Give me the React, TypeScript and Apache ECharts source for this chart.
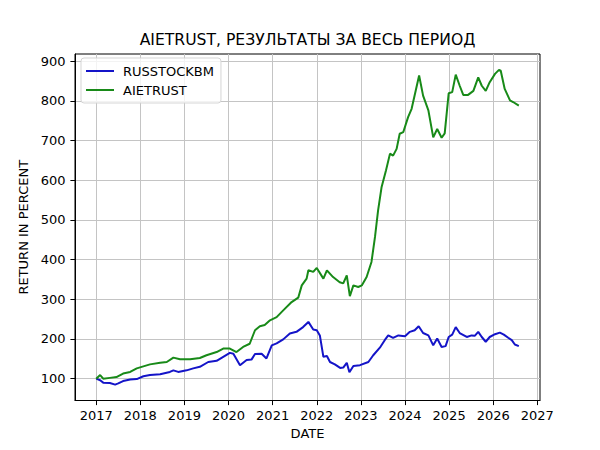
import React, { useEffect, useRef } from 'react';
import * as echarts from 'echarts';

// decimal years, values in percent (start = 100)
const russDates = [
  2017.0, 2017.09, 2017.16, 2017.31, 2017.43, 2017.5, 2017.61, 2017.77, 2017.92, 2018.07,
  2018.22, 2018.45, 2018.67, 2018.75, 2018.86, 2019.05, 2019.2, 2019.35, 2019.54, 2019.73,
  2019.88, 2020.03, 2020.11, 2020.26, 2020.41, 2020.52, 2020.6, 2020.75, 2020.86, 2020.98,
  2021.09, 2021.24, 2021.39, 2021.54, 2021.69, 2021.81, 2021.92, 2022.0, 2022.07, 2022.15,
  2022.23, 2022.3, 2022.41, 2022.53, 2022.6, 2022.68, 2022.74, 2022.83, 2022.98, 2023.17,
  2023.28, 2023.43, 2023.54, 2023.62, 2023.73, 2023.85, 2024.0, 2024.11, 2024.22, 2024.31,
  2024.41, 2024.53, 2024.64, 2024.73, 2024.83, 2024.92, 2024.99, 2025.07, 2025.15, 2025.24,
  2025.4, 2025.51, 2025.58, 2025.66, 2025.74, 2025.83, 2025.92, 2026.04, 2026.15, 2026.24,
  2026.34, 2026.42, 2026.49, 2026.58,
];
const russValues = [
  100, 96, 90, 89, 85, 88, 94, 98, 99, 106,
  109, 111, 117, 121, 117, 121, 126, 130, 142, 145,
  155, 165, 163, 134, 147, 148, 162, 163, 151, 184,
  189, 199, 214, 218, 230, 243, 224, 222, 209, 155,
  157, 142, 136, 127, 128, 140, 116, 132, 134, 142,
  159, 178, 197, 209, 203, 209, 207, 218, 222, 232,
  215, 209, 184, 201, 180, 182, 205, 211, 230, 215,
  205, 209, 208, 218, 205, 193, 205, 212, 216, 211,
  203, 197, 186, 182,
];

const aieDates = [
  2017.0, 2017.09, 2017.16, 2017.31, 2017.46, 2017.61, 2017.77, 2017.92, 2018.07, 2018.22,
  2018.45, 2018.6, 2018.75, 2018.9, 2019.13, 2019.35, 2019.5, 2019.73, 2019.88, 2020.03,
  2020.18, 2020.33, 2020.48, 2020.6, 2020.71, 2020.82, 2020.94, 2021.09, 2021.24, 2021.43,
  2021.58, 2021.66, 2021.77, 2021.81, 2021.92, 2022.0, 2022.15, 2022.23, 2022.37, 2022.52,
  2022.6, 2022.68, 2022.75, 2022.83, 2022.94, 2023.02, 2023.13, 2023.24, 2023.32, 2023.39,
  2023.47, 2023.57, 2023.66, 2023.73, 2023.81, 2023.88, 2023.96, 2024.07, 2024.15, 2024.26,
  2024.32, 2024.41, 2024.53, 2024.64, 2024.73, 2024.83, 2024.9, 2024.99, 2025.07, 2025.15,
  2025.24, 2025.32, 2025.43, 2025.55, 2025.66, 2025.74, 2025.83, 2025.92, 2026.04, 2026.13,
  2026.17, 2026.26, 2026.38, 2026.45, 2026.58,
];
const aieValues = [
  100, 109, 100, 102, 104, 113, 117, 126, 131, 136,
  140, 142, 153, 149, 149, 152, 159, 167, 176, 176,
  167, 180, 188, 222, 232, 235, 247, 255, 272, 293,
  304, 335, 352, 373, 369, 379, 352, 373, 356, 343,
  340, 360, 308, 335, 331, 335, 356, 394, 457, 524,
  583, 625, 667, 662, 679, 717, 721, 759, 780, 834,
  864, 813, 776, 708, 729, 707, 718, 819, 822, 866,
  838, 815, 815, 825, 859, 838, 825, 847, 868, 878,
  876, 830, 801, 797, 788,
];

const yearTicks = [2017, 2018, 2019, 2020, 2021, 2022, 2023, 2024, 2025, 2026, 2027];
const percentTicks = [100, 200, 300, 400, 500, 600, 700, 800, 900];

const zip = (xs: number[], ys: number[]) => xs.map((x, i) => [x, ys[i]]);

const FONT = 'DejaVu Sans';

const App: React.FC = () => {
  const chartRef = useRef<HTMLDivElement>(null);

  useEffect(() => {
    document.body.style.margin = '0';
    if (!chartRef.current) return;
    const chart = echarts.init(chartRef.current, undefined, { renderer: 'svg' });

    const option: echarts.EChartsOption = {
      animation: false,
      backgroundColor: '#fff',
      textStyle: { fontFamily: FONT },
      title: {
        text: 'AIETRUST, РЕЗУЛЬТАТЫ ЗА ВЕСЬ ПЕРИОД',
        left: 307.5,
        top: 32,
        textAlign: 'center',
        padding: 0,
        textStyle: { fontFamily: FONT, fontSize: 15.6, fontWeight: 'normal', color: '#000' },
      },
      legend: {
        orient: 'vertical',
        left: 81,
        top: 58,
        padding: [6.5, 7, 6.5, 5],
        itemGap: 6,
        itemWidth: 28,
        itemHeight: 2,
        icon: 'rect',
        borderColor: '#d5d5d5',
        borderWidth: 1,
        borderRadius: 3,
        backgroundColor: 'rgba(255,255,255,0.8)',
        textStyle: { fontFamily: FONT, fontSize: 13, color: '#000', padding: [0, 0, 0, 4] },
        data: ['RUSSTOCKBM', 'AIETRUST'],
      },
      grid: {
        left: 75,
        right: 60,
        top: 54,
        bottom: 49.5,
        show: true,
        borderColor: '#000',
        borderWidth: 1,
        containLabel: false,
      },
      xAxis: {
        type: 'value',
        min: 2016.52,
        max: 2027.06,
        name: 'DATE',
        nameLocation: 'middle',
        nameGap: 26,
        nameTextStyle: { fontFamily: FONT, fontSize: 13, color: '#000' },
        axisLine: { show: true, lineStyle: { color: '#000', width: 1 } },
        axisTick: { show: true, inside: false, length: 4.6, lineStyle: { color: '#000' }, customValues: yearTicks },
        axisLabel: {
          show: true,
          margin: 8,
          fontFamily: FONT,
          fontSize: 13,
          color: '#000',
          customValues: yearTicks,
          formatter: (v: number) => String(Math.round(v)),
        },
        splitLine: { show: true, lineStyle: { color: '#c4c4c4', width: 1 } },
      },
      yAxis: {
        type: 'value',
        min: 45,
        max: 918,
        name: 'RETURN IN PERCENT',
        nameLocation: 'middle',
        nameRotate: 90,
        nameGap: 31,
        nameTextStyle: { fontFamily: FONT, fontSize: 13, color: '#000' },
        axisLine: { show: true, lineStyle: { color: '#000', width: 1 } },
        axisTick: { show: true, inside: false, length: 4.6, lineStyle: { color: '#000' }, customValues: percentTicks },
        axisLabel: {
          show: true,
          margin: 9.5,
          fontFamily: FONT,
          fontSize: 13,
          color: '#000',
          customValues: percentTicks,
        },
        splitLine: { show: true, lineStyle: { color: '#c4c4c4', width: 1 } },
      },
      series: [
        {
          name: 'RUSSTOCKBM',
          type: 'line',
          data: zip(russDates, russValues),
          showSymbol: false,
          symbol: 'none',
          color: '#1414c8',
          lineStyle: { width: 2, color: '#1414c8' },
        },
        {
          name: 'AIETRUST',
          type: 'line',
          data: zip(aieDates, aieValues),
          showSymbol: false,
          symbol: 'none',
          color: '#188a18',
          lineStyle: { width: 2, color: '#188a18' },
        },
      ],
    };

    chart.setOption(option);
    return () => {
      chart.dispose();
    };
  }, []);

  return <div ref={chartRef} style={{ width: '600px', height: '450px' }} />;
};

export default App;
